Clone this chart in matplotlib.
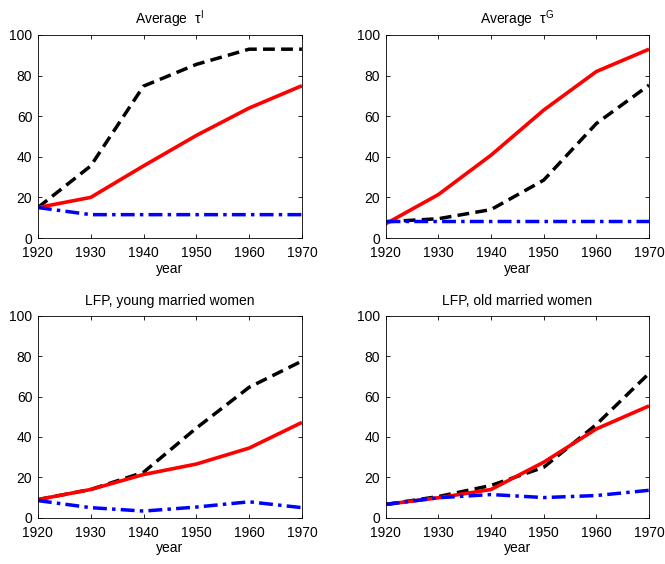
import matplotlib
matplotlib.use('Agg')
import matplotlib.pyplot as plt

plt.rcParams['font.family'] = ['Liberation Sans', 'DejaVu Sans']
plt.rcParams['font.size'] = 10
plt.rcParams['mathtext.fontset'] = 'custom'
plt.rcParams['mathtext.rm'] = 'Liberation Sans'
plt.rcParams['mathtext.it'] = 'Liberation Sans'

years = [1920, 1930, 1940, 1950, 1960, 1970]

# Average tau^I
tauI_red = [15, 20, 35.5, 50.5, 64, 75]
tauI_black = [15, 35.5, 74.8, 85.5, 93, 93]
tauI_blue = [15, 11.5, 11.5, 11.5, 11.5, 11.5]

# Average tau^G
tauG_red = [7, 21.4, 40.8, 63, 82, 93]
tauG_black = [8, 9.5, 14, 28.5, 56.4, 75.3]
tauG_blue = [8.2, 8.2, 8.2, 8.2, 8.2, 8.2]

# LFP young married women
young_red = [9, 14, 21.4, 26.6, 34.5, 47.2]
young_black = [9, 14, 22.5, 44.4, 64.6, 77.6]
young_blue = [8.5, 5, 3.3, 5.3, 7.9, 5]

# LFP old married women
old_red = [6.6, 9.9, 14, 27.5, 44, 55.4]
old_black = [6.6, 10.5, 16, 25, 46.2, 71.5]
old_blue = [6.6, 9.9, 11.5, 10, 11, 13.6]

titles = [r'Average  $\tau^{\mathrm{I}}$', r'Average  $\tau^{\mathrm{G}}$',
          'LFP, young married women', 'LFP, old married women']
panels = [(tauI_red, tauI_black, tauI_blue),
          (tauG_red, tauG_black, tauG_blue),
          (young_red, young_black, young_blue),
          (old_red, old_black, old_blue)]

fig = plt.figure(figsize=(6.65, 5.64), dpi=100)
rects = [[0.057, 0.578, 0.397, 0.360],
         [0.580, 0.578, 0.396, 0.360],
         [0.057, 0.082, 0.397, 0.358],
         [0.580, 0.082, 0.396, 0.358]]

for rect, title, (red, black, blue) in zip(rects, titles, panels):
    ax = fig.add_axes(rect)
    ax.plot(years, black, color='black', lw=2.5, linestyle=(0, (3.4, 1.8)))
    ax.plot(years, red, color='red', lw=2.6, solid_capstyle='butt')
    ax.plot(years, blue, color='blue', lw=2.5, linestyle=(0, (4, 1.5, 1, 1.5)))
    ax.set_xlim(1920, 1970)
    ax.set_ylim(0, 100)
    ax.set_xticks(years)
    ax.set_yticks([0, 20, 40, 60, 80, 100])
    ax.tick_params(direction='in', top=True, right=True, length=3, width=0.6)
    ax.tick_params(axis='x', pad=6)
    ax.tick_params(axis='y', pad=4)
    for s in ax.spines.values():
        s.set_linewidth(0.6)
    ax.set_xlabel('year', labelpad=1)
    ax.set_title(title, fontsize=10, pad=8)

fig.savefig('out.png', dpi=100)
